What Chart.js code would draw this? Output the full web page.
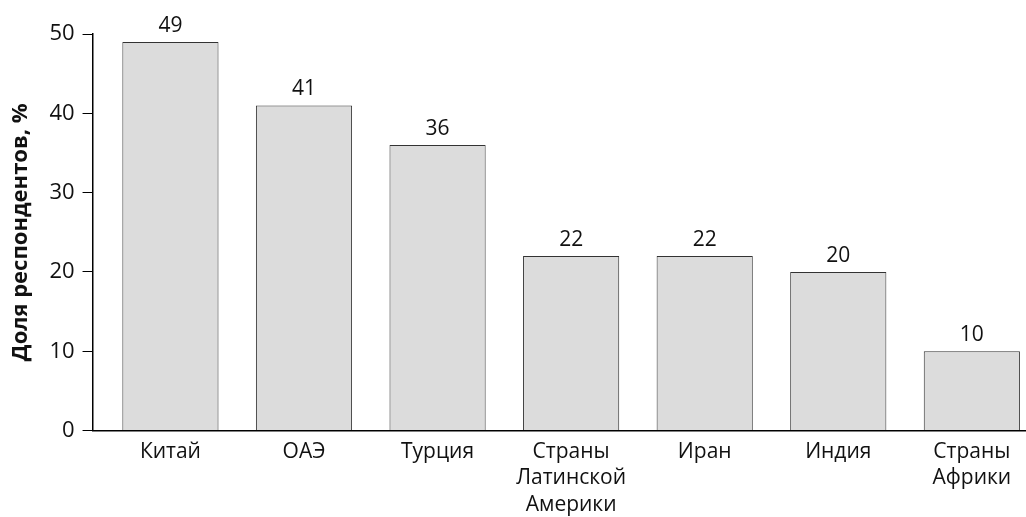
<!DOCTYPE html>
<html>
<head>
<meta charset="utf-8">
<script src="https://cdn.jsdelivr.net/npm/chart.js@4"></script>
<style>
  html, body { margin: 0; padding: 0; background: #fff; }
  #wrap { width: 1026px; height: 517px; }
</style>
</head>
<body>
<div id="wrap"><canvas id="c" width="1026" height="517"></canvas></div>
<script>
const categories = [
  'Китай',
  'ОАЭ',
  'Турция',
  ['Страны', 'Латинской', 'Америки'],
  'Иран',
  'Индия',
  ['Страны', 'Африки']
];
const shares = [49, 41, 36, 22, 22, 20, 10];
const yTicks = [0, 10, 20, 30, 40, 50];
const yTitle = 'Доля респондентов, %';

const FONT = '"Open Sans", "Noto Sans", sans-serif';

// Bars sit at integer positions along a numeric axis so the axis can start a bit before the first group
const points = shares.map((v, i) => ({ x: i, y: v }));

// Writes each bar's value just above it
const valueLabels = {
  id: 'valueLabels',
  afterDatasetsDraw(chart) {
    const { ctx } = chart;
    const meta = chart.getDatasetMeta(0);
    ctx.save();
    ctx.font = '21px ' + FONT;
    ctx.fillStyle = '#111';
    ctx.textAlign = 'center';
    ctx.textBaseline = 'alphabetic';
    meta.data.forEach((bar, i) => {
      ctx.fillText(String(shares[i]), bar.x, bar.y - 10);
    });
    ctx.restore();
  }
};

new Chart(document.getElementById('c'), {
  type: 'bar',
  data: {
    datasets: [{
      data: points,
      backgroundColor: '#dcdcdc',
      borderColor: '#333',
      borderWidth: 1,
      barPercentage: 0.72,
      categoryPercentage: 1
    }]
  },
  options: {
    responsive: false,
    animation: false,
    devicePixelRatio: 1,
    layout: { padding: { top: 34, right: 1, left: 8, bottom: 0 } },
    plugins: { legend: { display: false }, tooltip: { enabled: false } },
    scales: {
      x: {
        type: 'linear',
        min: -0.583,
        max: 6.398,
        offset: false,
        afterBuildTicks(scale) { scale.ticks = categories.map((_, i) => ({ value: i })); },
        afterFit(scale) { scale.height -= 9; },
        grid: { display: false, drawTicks: false },
        border: { display: true, color: '#000', width: 1.5 },
        ticks: {
          color: '#111',
          font: { family: FONT, size: 21, lineHeight: 1.26 },
          padding: 8,
          maxRotation: 0,
          autoSkip: false,
          callback: (value) => categories[value]
        }
      },
      y: {
        min: 0,
        max: 50,
        afterBuildTicks(scale) { scale.ticks = yTicks.map(v => ({ value: v })); },
        grid: { display: true, drawOnChartArea: false, drawTicks: true, tickLength: 10, color: '#000', lineWidth: 1 },
        border: { display: true, color: '#000', width: 1.5 },
        ticks: {
          color: '#111',
          font: { family: FONT, size: 22 },
          padding: 8
        },
        title: {
          display: true,
          text: yTitle,
          color: '#111',
          font: { family: FONT, size: 22, weight: 'bold' },
          padding: { top: 0, bottom: 7 }
        }
      }
    }
  },
  plugins: [valueLabels]
});
</script>
</body>
</html>
